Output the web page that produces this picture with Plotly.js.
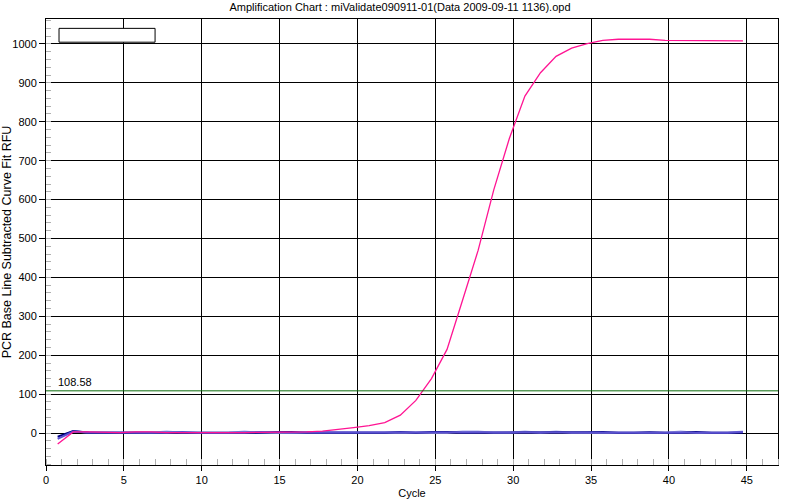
<!DOCTYPE html>
<html>
<head>
<meta charset="utf-8">
<script src="https://cdn.plot.ly/plotly-3.0.1.min.js"></script>
<style>html,body{margin:0;padding:0;background:#fff;}#chart{width:800px;height:500px;}</style>
</head>
<body>
<div id="chart"></div>
<script>
// Data
const cycles = [0.75,1.75,2.75,3.75,4.75,5.75,6.75,7.75,8.75,9.75,10.75,11.75,12.75,13.75,14.75,15.75,16.75,17.75,18.75,19.75,20.75,21.75,22.75,23.75,24.75,25.75,26.75,27.75,28.75,29.75,30.75,31.75,32.75,33.75,34.75,35.75,36.75,37.75,38.75,39.75,40.75,41.75,42.75,43.75,44.75];
const wellPink = [-28,3,3,2,1,3,3,1,1,1,1,0,1,2,2,3,3,5,9,14,19,27,46,84,140,215,342,470,625,757,866,926,968,989,1001,1009,1012,1012,1012,1009,1009,1008,1008,1008,1008];
const wellPurple = [-15,4,2,2,1,1,2,1,3,1,1,1,1,3,2,1,2,2,1,2,1,2,1,1,2,2,1,2,1,1,2,1,2,1,1,1,1,1,2,1,2,1,1,1,3];
const wellNavy = [-9,5,1,1,1,1,1,1,1,1,2,1,1,1,3,3,1,1,2,1,1,1,3,1,3,3,1,1,1,1,1,1,1,1,2,3,1,1,2,1,1,3,1,1,1];
const wellLight = [-12,5,1,1,2,1,1,4,1,1,0,1,4,1,1,1,1,1,1,1,1,1,1,1,1,1,4,4,1,1,4,1,4,1,1,1,1,1,1,1,4,1,1,1,4];
const threshold = 108.58;
const titleText = "Amplification Chart : miValidate090911-01(Data 2009-09-11 1136).opd";
const xTitle = "Cycle";
const yTitle = "PCR Base Line Subtracted Curve Fit RFU";

const font = "Liberation Sans, Arial, sans-serif";
function tr(y, color, w) {
  return {x: cycles, y: y, type: 'scatter', mode: 'lines', line: {color: color, width: w}, hoverinfo: 'skip'};
}
const data = [
  tr(wellLight, '#a8a8f0', 2),
  tr(wellNavy, '#000080', 2),
  tr(wellPurple, '#5a50d0', 2),
  tr(wellPink, '#ff1493', 1.3)
];

const layout = {
  width: 800, height: 500,
  margin: {l: 46, r: 22, t: 19, b: 35},
  paper_bgcolor: '#fff', plot_bgcolor: '#fff',
  showlegend: false,
  font: {family: font, size: 11, color: '#000'},
  title: {text: titleText, x: 0.5, xref: 'container', xanchor: 'center', y: 0.985, yref: 'container', yanchor: 'middle', font: {family: font, size: 11, color: '#000'}},
  xaxis: {
    range: [0, 47], tick0: 0, dtick: 5, ticks: 'outside', ticklen: 5, tickcolor: '#000',
    showgrid: true, gridcolor: '#000', gridwidth: 1, zeroline: false,
    showline: true, linecolor: '#000', linewidth: 1, mirror: true,
    minor: {dtick: 1, tick0: 0, ticks: 'inside', ticklen: 6, tickcolor: '#b0b0b0', showgrid: false},
    title: {text: xTitle, font: {family: font, size: 11, color: '#000'}, standoff: 4},
    tickfont: {family: font, size: 11, color: '#000'}
  },
  yaxis: {
    range: [-82, 1064], tick0: 0, dtick: 100, ticks: 'outside', ticklen: 6, tickcolor: '#000',
    showgrid: true, gridcolor: '#000', gridwidth: 1, zeroline: false,
    showline: true, linecolor: '#000', linewidth: 1, mirror: true,
    minor: {dtick: 20, tick0: 0, ticks: 'inside', ticklen: 5, tickcolor: '#b0b0b0', showgrid: false},
    title: {text: yTitle, font: {family: font, size: 12.5, color: '#000'}, standoff: 6},
    tickfont: {family: font, size: 11, color: '#000'}
  },
  shapes: [
    {type: 'line', xref: 'paper', x0: 0, x1: 1, yref: 'y', y0: threshold, y1: threshold, line: {color: '#0a6a0a', width: 1}},
    {type: 'rect', xref: 'paper', yref: 'paper', x0: 0.0178, x1: 0.149, y0: 0.948, y1: 0.979, line: {color: '#000', width: 1}, fillcolor: '#fff'}
  ],
  annotations: [
    {x: 0.013, xref: 'paper', y: threshold, yref: 'y', xanchor: 'left', yanchor: 'bottom', yshift: 1, text: String(threshold), showarrow: false, font: {family: font, size: 11, color: '#000'}}
  ]
};
Plotly.newPlot('chart', data, layout, {displayModeBar: false, staticPlot: true});
</script>
</body>
</html>
